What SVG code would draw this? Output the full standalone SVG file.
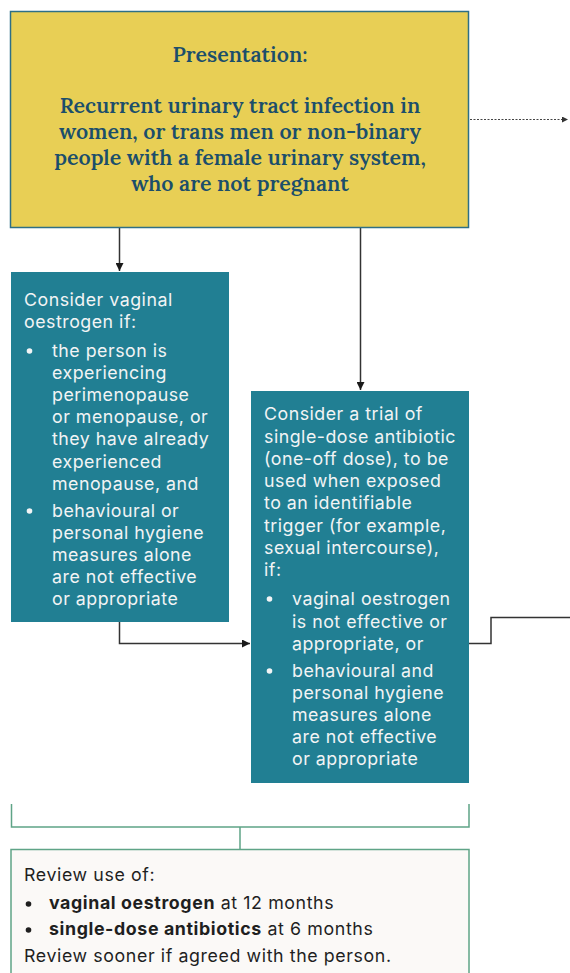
<svg xmlns="http://www.w3.org/2000/svg" width="570" height="973" viewBox="0 0 570 973">
<defs>
<marker id="ah" viewBox="0 0 10 10" refX="10" refY="5" markerWidth="8" markerHeight="8" markerUnits="userSpaceOnUse" orient="auto"><path d="M0,0 L10,5 L0,10 z" fill="#1a1a1a"/></marker>
<marker id="ahs" viewBox="0 0 10 10" refX="10" refY="5" markerWidth="6" markerHeight="6" markerUnits="userSpaceOnUse" orient="auto"><path d="M0,0 L10,5 L0,10 z" fill="#333"/></marker>
</defs>
<style>
.yel{fill:#e8cf55;stroke:#2e6f86;stroke-width:1.5}
.teal{fill:#217f93}
.rev{fill:#fbf9f7;stroke:#5fa487;stroke-width:1.5}
.ht{font-family:"Lora","DejaVu Serif","Liberation Serif",serif;font-weight:600;font-size:21.3px;fill:#1b4e6b;text-anchor:middle}
.wt{font-family:Inter,"Liberation Sans",sans-serif;font-size:17.8px;letter-spacing:0.5px;fill:#f2f4f5}
.dt{font-family:Inter,"Liberation Sans",sans-serif;font-size:17.8px;letter-spacing:0.6px;fill:#1f1f1f}
.b{font-weight:bold}
.wb{fill:#f2f4f5}
.db{fill:#1f1f1f}
.ln{fill:none;stroke:#333;stroke-width:1.5}
.gl{fill:none;stroke:#5fa487;stroke-width:1.5}
</style>
<g id="connectors">
<path class="ln" d="M119.5,228 V271" marker-end="url(#ah)"/>
<path class="ln" d="M360.5,228 V390" marker-end="url(#ah)"/>
<path class="ln" d="M119.5,622 V643.5 H250" marker-end="url(#ah)"/>
<path class="ln" d="M469,643.5 H491 V617.5 H570"/>
<path fill="none" stroke="#444" stroke-width="1.2" stroke-dasharray="2,1.5" d="M470,119.5 H568" marker-end="url(#ahs)"/>
<path class="gl" d="M11.5,804 V827 H469 V804 M240,827 V849"/>
</g>
<g id="presentation">
<rect class="yel" x="10.5" y="11.5" width="458" height="216"/>
<text class="ht" x="240" y="62">Presentation:</text>
<text class="ht" x="240" y="113">Recurrent urinary tract infection in</text>
<text class="ht" x="240" y="139">women, or trans men or non-binary</text>
<text class="ht" x="240" y="165">people with a female urinary system,</text>
<text class="ht" x="240" y="191">who are not pregnant</text>
</g>
<g id="vaginal-oestrogen">
<rect class="teal" x="11" y="272" width="218" height="350"/>
<text class="wt" x="24" y="306">Consider vaginal</text>
<text class="wt" x="24" y="328">oestrogen if:</text>
<circle class="wb" cx="29.5" cy="351" r="2.8"/>
<text class="wt" x="52" y="357">the person is</text>
<text class="wt" x="52" y="379">experiencing</text>
<text class="wt" x="52" y="401">perimenopause</text>
<text class="wt" x="52" y="423">or menopause, or</text>
<text class="wt" x="52" y="445">they have already</text>
<text class="wt" x="52" y="468">experienced</text>
<text class="wt" x="52" y="490">menopause, and</text>
<circle class="wb" cx="29.5" cy="511" r="2.8"/>
<text class="wt" x="52" y="517">behavioural or</text>
<text class="wt" x="52" y="539">personal hygiene</text>
<text class="wt" x="52" y="561">measures alone</text>
<text class="wt" x="52" y="583">are not effective</text>
<text class="wt" x="52" y="605">or appropriate</text>
</g>
<g id="single-dose-antibiotic">
<rect class="teal" x="251" y="391" width="218" height="392"/>
<text class="wt" x="264" y="420">Consider a trial of</text>
<text class="wt" x="264" y="443">single-dose antibiotic</text>
<text class="wt" x="264" y="465">(one-off dose), to be</text>
<text class="wt" x="264" y="487">used when exposed</text>
<text class="wt" x="264" y="509">to an identifiable</text>
<text class="wt" x="264" y="532">trigger (for example,</text>
<text class="wt" x="264" y="554">sexual intercourse),</text>
<text class="wt" x="264" y="576">if:</text>
<circle class="wb" cx="269.5" cy="599" r="2.8"/>
<text class="wt" x="292" y="605">vaginal oestrogen</text>
<text class="wt" x="292" y="628">is not effective or</text>
<text class="wt" x="292" y="650">appropriate, or</text>
<circle class="wb" cx="269.5" cy="671" r="2.8"/>
<text class="wt" x="292" y="677">behavioural and</text>
<text class="wt" x="292" y="699">personal hygiene</text>
<text class="wt" x="292" y="721">measures alone</text>
<text class="wt" x="292" y="743">are not effective</text>
<text class="wt" x="292" y="765">or appropriate</text>
</g>
<g id="review">
<rect class="rev" x="11" y="849.5" width="458" height="140"/>
<text class="dt" x="24" y="881">Review use of:</text>
<circle class="db" cx="28.5" cy="904" r="2.8"/>
<text class="dt" x="49" y="909"><tspan class="b">vaginal oestrogen</tspan> at 12 months</text>
<circle class="db" cx="28.5" cy="930" r="2.8"/>
<text class="dt" x="49" y="935"><tspan class="b">single-dose antibiotics</tspan> at 6 months</text>
<text class="dt" x="24" y="962">Review sooner if agreed with the person.</text>
</g>
</svg>
